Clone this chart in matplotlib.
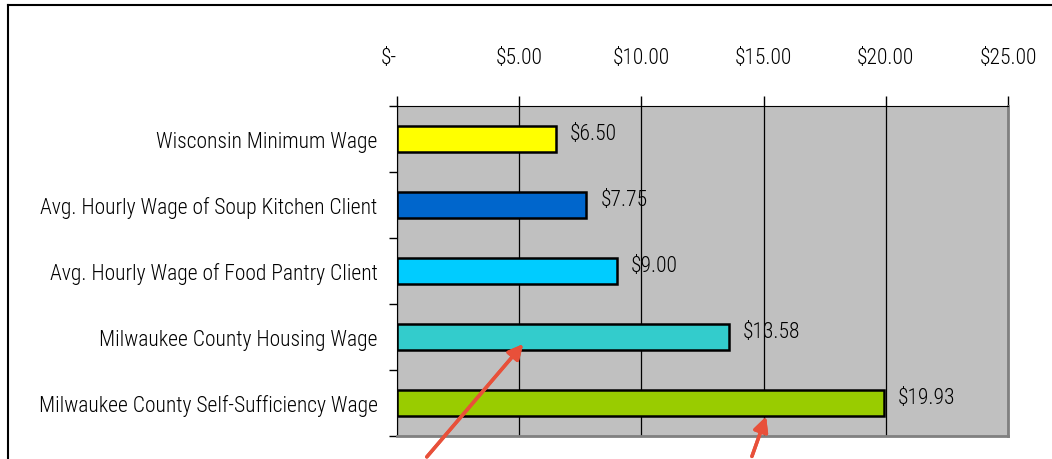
import matplotlib.pyplot as plt
from matplotlib.lines import Line2D

plt.rcParams['font.family'] = ['Liberation Sans Narrow', 'Roboto Condensed', 'Liberation Sans', 'DejaVu Sans']

labels = ['Wisconsin Minimum Wage',
          'Avg. Hourly Wage of Soup Kitchen Client',
          'Avg. Hourly Wage of Food Pantry Client',
          'Milwaukee County Housing Wage',
          'Milwaukee County Self-Sufficiency Wage']
wages = [6.50, 7.75, 9.00, 13.58, 19.93]
colors = ['#FFFF00', '#0066CC', '#00CCFF', '#33CCCC', '#99CC00']
xticks = [0, 5, 10, 15, 20, 25]
xticklabels = ['$-', '$5.00', '$10.00', '$15.00', '$20.00', '$25.00']

fs = 15.5
fig = plt.figure(figsize=(10.52, 4.60), dpi=100)
ax = fig.add_axes([397/1052, 1 - 437/460, 611/1052, 330/460])
ax.set_facecolor('#C0C0C0')

y = list(range(len(labels)))
ax.barh(y, wages, height=0.39, color=colors, edgecolor='black', linewidth=1.8, zorder=3)
for yi, w in zip(y, wages):
    ax.annotate('$%.2f' % w, (w, yi), xytext=(10, 4), textcoords='offset points',
                va='center', ha='left', fontsize=fs, fontweight='light')

ax.set_xlim(0, 25)
ax.set_ylim(len(labels) - 0.5, -0.5)
ax.set_xticks(xticks)
ax.set_xticklabels(xticklabels, fontsize=fs, fontweight='light')
ax.xaxis.tick_top()
ax.tick_params(axis='x', direction='out', length=7.2, width=1, pad=20, color='black')
ax.get_xticklabels()[0].set_horizontalalignment('right')
ax.grid(axis='x', color='black', linewidth=0.9, zorder=1)

ax.set_yticks(y)
ax.set_yticklabels(labels, fontsize=fs, fontweight='light')
ax.set_yticks([i - 0.5 for i in range(len(labels) + 1)], minor=True)
ax.tick_params(axis='y', which='major', length=0, pad=14)
ax.tick_params(axis='y', which='minor', length=6, width=1, direction='out')

ax.spines['top'].set_color('black')
ax.spines['left'].set_color('black')
ax.spines['right'].set_color('#808080')
ax.spines['bottom'].set_color('#808080')
ax.spines['right'].set_linewidth(2)
ax.spines['bottom'].set_linewidth(2)

# outer chart frame (cropped at right and bottom)
fig.add_artist(Line2D([8/1052, 8/1052], [0, 1 - 6/460], color='black', lw=1.5))
fig.add_artist(Line2D([8/1052, 1], [1 - 6/460, 1 - 6/460], color='black', lw=1.5))

# red arrows
arrow = dict(arrowstyle='-|>', color='#E8503A', lw=2.5, mutation_scale=22)
fig.add_artist(plt.annotate('', xy=(525/1052, 1 - 343/460), xytext=(425/1052, 0),
                            xycoords='figure fraction', arrowprops=arrow))
fig.add_artist(plt.annotate('', xy=(767/1052, 1 - 415/460), xytext=(751/1052, 0),
                            xycoords='figure fraction', arrowprops=arrow))

fig.savefig('out.png', dpi=100)
